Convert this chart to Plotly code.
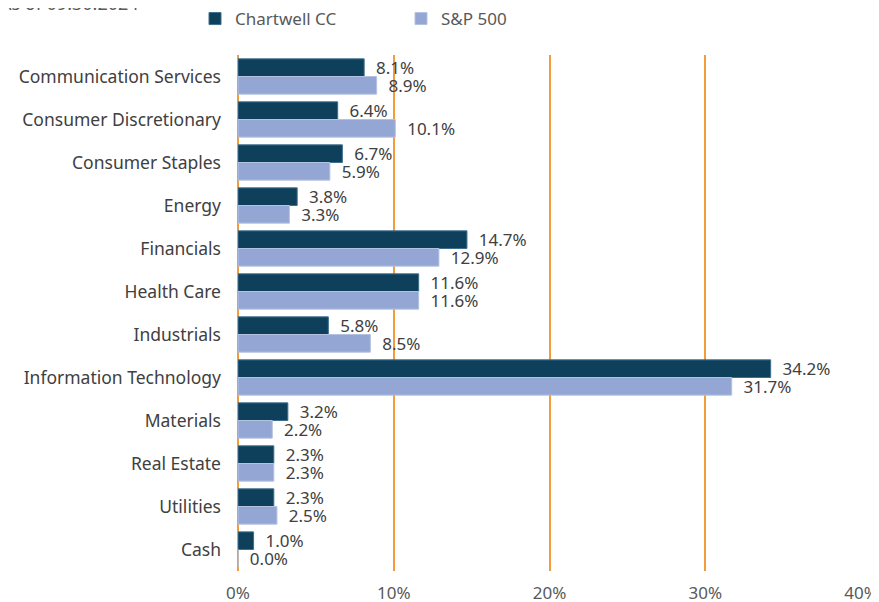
import plotly.graph_objects as go

categories = ["Communication Services", "Consumer Discretionary", "Consumer Staples", "Energy",
              "Financials", "Health Care", "Industrials", "Information Technology",
              "Materials", "Real Estate", "Utilities", "Cash"]
chartwell = [8.1, 6.4, 6.7, 3.8, 14.7, 11.6, 5.8, 34.2, 3.2, 2.3, 2.3, 1.0]
sp500 = [8.9, 10.1, 5.9, 3.3, 12.9, 11.6, 8.5, 31.7, 2.2, 2.3, 2.5, 0.0]
tick_vals = [0, 10, 20, 30, 40]
tick_text = ["0%", "10%", "20%", "30%", "40%"]

font_family = "Noto Sans, Lato, sans-serif"
fig = go.Figure()
fig.add_trace(go.Bar(
    y=categories, x=chartwell, name="Chartwell CC", orientation="h",
    marker=dict(color="#0E405B", line=dict(color="#3D6F8E", width=1)),
    text=[f"  {v:.1f}%" for v in chartwell], textposition="outside", cliponaxis=False,
    constraintext="none",
    textfont=dict(size=17, color="#404040", family=font_family),
))
fig.add_trace(go.Bar(
    y=categories, x=sp500, name="S&P 500", orientation="h",
    marker=dict(color="#94A7D4", line=dict(color="#B4C2E2", width=1)),
    text=[f"  {v:.1f}%" for v in sp500], textposition="outside", cliponaxis=False,
    constraintext="none",
    textfont=dict(size=17, color="#404040", family=font_family),
))

fig.update_layout(
    width=879, height=602,
    margin=dict(l=230, r=26, t=47, b=39, autoexpand=False),
    paper_bgcolor="white", plot_bgcolor="white",
    barmode="group", bargap=0.18, bargroupgap=0.0,
    font=dict(family=font_family, color="#404040", size=15),
    legend=dict(orientation="h", x=-43/623, xanchor="left", y=1 + 18/516, yanchor="bottom",
                font=dict(size=17, color="#595959"), entrywidth=161, entrywidthmode="pixels",
                traceorder="normal", itemwidth=30),
    showlegend=True,
    xaxis=dict(range=[0, 40], tickvals=tick_vals, ticktext=tick_text, automargin=False,
               showgrid=True, gridcolor="#F39C3C", gridwidth=1.5, zeroline=True,
               zerolinecolor="#F39C3C", zerolinewidth=1.5,
               showline=False, tickfont=dict(size=17, color="#595959"), ticklen=0,
               ticks="", ticklabelstandoff=10),
    yaxis=dict(categoryorder="array", categoryarray=categories, autorange="reversed",
               automargin=False,
               showgrid=False, tickfont=dict(size=17.5, color="#404040"), ticks="",
               ticklabelstandoff=16),
)
fig.add_annotation(text="As of 09.30.2024", xref="paper", yref="paper",
                   x=-240/623, y=1 + 52/516, xanchor="left", yanchor="middle",
                   showarrow=False, font=dict(size=18, color="#595959"))
fig.write_html("out.html")
